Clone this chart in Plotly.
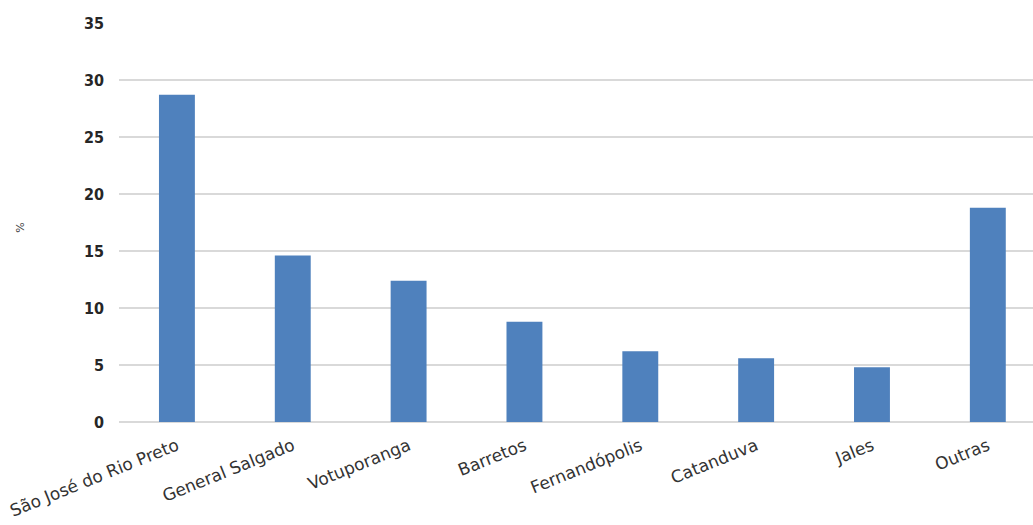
import plotly.graph_objects as go

categories = ["São José do Rio Preto", "General Salgado", "Votuporanga", "Barretos",
              "Fernandópolis", "Catanduva", "Jales", "Outras"]
values = [28.7, 14.6, 12.4, 8.8, 6.2, 5.6, 4.8, 18.8]
y_ticks = [0, 5, 10, 15, 20, 25, 30, 35]

fig = go.Figure(go.Bar(x=categories, y=values, marker=dict(color="#4f81bd", line=dict(width=0)),
                       width=0.31))

fig.update_layout(
    width=1033, height=525,
    margin=dict(l=119, r=0, t=23, b=103),
    plot_bgcolor="white", paper_bgcolor="white",
    showlegend=False,
    xaxis=dict(range=[-0.5, 7.39], tickangle=-22, showgrid=False, showline=False,
               tickfont=dict(family="DejaVu Sans", size=17, color="#333333"),
               ticks="", ticklabelstandoff=10),
    yaxis=dict(range=[0, 35], tickvals=y_ticks, showgrid=True, gridcolor="#d9d9d9", gridwidth=2,
               zeroline=True, zerolinecolor="#d9d9d9", zerolinewidth=2, showline=False,
               tickfont=dict(family="DejaVu Sans Condensed, Liberation Sans Narrow, sans-serif",
                             size=16, color="#262626", weight="bold"),
               ticks="", ticklabelstandoff=14),
    annotations=[dict(text="%", xref="paper", yref="paper", x=-0.117, y=0.486, showarrow=False,
                      textangle=-90, font=dict(family="DejaVu Sans", size=11, color="#404040"))],
)

fig.write_html("out.html")
